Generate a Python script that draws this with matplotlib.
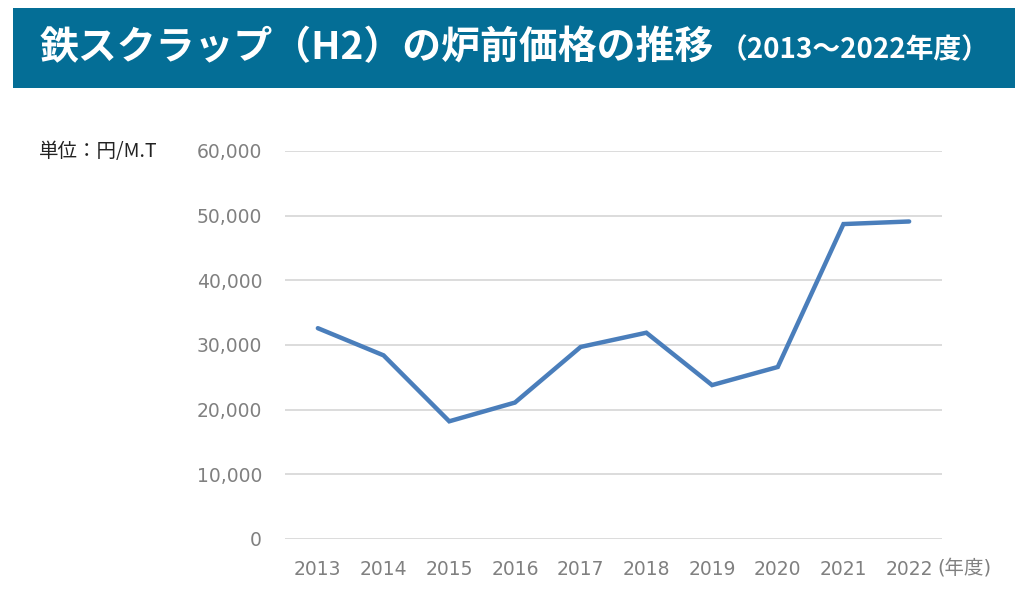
import matplotlib.pyplot as plt
from matplotlib.patches import Rectangle
from matplotlib.ticker import FuncFormatter

plt.rcParams['font.family'] = ['Noto Sans CJK JP', 'DejaVu Sans']

# 鉄スクラップ（H2）炉前価格 円/M.T
years = ['2013', '2014', '2015', '2016', '2017', '2018', '2019', '2020', '2021', '2022']
prices = [32600, 28400, 18200, 21100, 29700, 31900, 23800, 26600, 48700, 49100]
yticks = [0, 10000, 20000, 30000, 40000, 50000, 60000]

fig = plt.figure(figsize=(10.24, 6.05), dpi=100)

# title banner
fig.patches.append(Rectangle((13 / 1024, 1 - 88 / 605), 1002 / 1024, 80 / 605,
                             transform=fig.transFigure, facecolor='#046e96',
                             edgecolor='none', zorder=0))
fig.text(40 / 1024, 1 - 48 / 605, '鉄スクラップ（H2）の炉前価格の推移',
         color='white', fontsize=28, fontweight='bold', va='center', ha='left')
fig.text(990 / 1024, 1 - 50 / 605, '（2013～2022年度）',
         color='white', fontsize=20, fontweight='bold', va='center', ha='right')

ax = fig.add_axes([285 / 1024, 1 - 539 / 605, 657 / 1024, 388 / 605])
x = range(len(years))
ax.plot(x, prices, color='#4a7ebb', linewidth=3.2, solid_capstyle='round',
        solid_joinstyle='miter', zorder=3)

ax.set_xlim(-0.5, len(years) - 0.5)
ax.set_ylim(0, 60000)
ax.set_yticks(yticks)
ax.yaxis.set_major_formatter(FuncFormatter(lambda v, p: f'{int(v):,}'))
ax.set_xticks(list(x))
ax.set_xticklabels(years)
ax.grid(axis='y', color='#d9d9d9', linewidth=1.3)
ax.set_axisbelow(True)
for s in ax.spines.values():
    s.set_visible(False)
ax.tick_params(length=0, labelsize=13.5, labelcolor='#808080')
for lab in ax.get_xticklabels() + ax.get_yticklabels():
    lab.set_family(['DejaVu Sans'])
ax.tick_params(axis='y', pad=16.5)
ax.tick_params(axis='x', pad=15)

fig.text(39 / 1024, 1 - 151 / 605, '単位：円/M.T', fontsize=14, color='#222222',
         va='center', ha='left', family=['Noto Sans CJK JP', 'DejaVu Sans'])
fig.text(937 / 1024, 1 - 568 / 605, '(年度)', fontsize=14, color='#808080',
         va='center', ha='left', family=['DejaVu Sans', 'Noto Sans CJK JP'])

fig.savefig('out.png', dpi=100, facecolor='white')
